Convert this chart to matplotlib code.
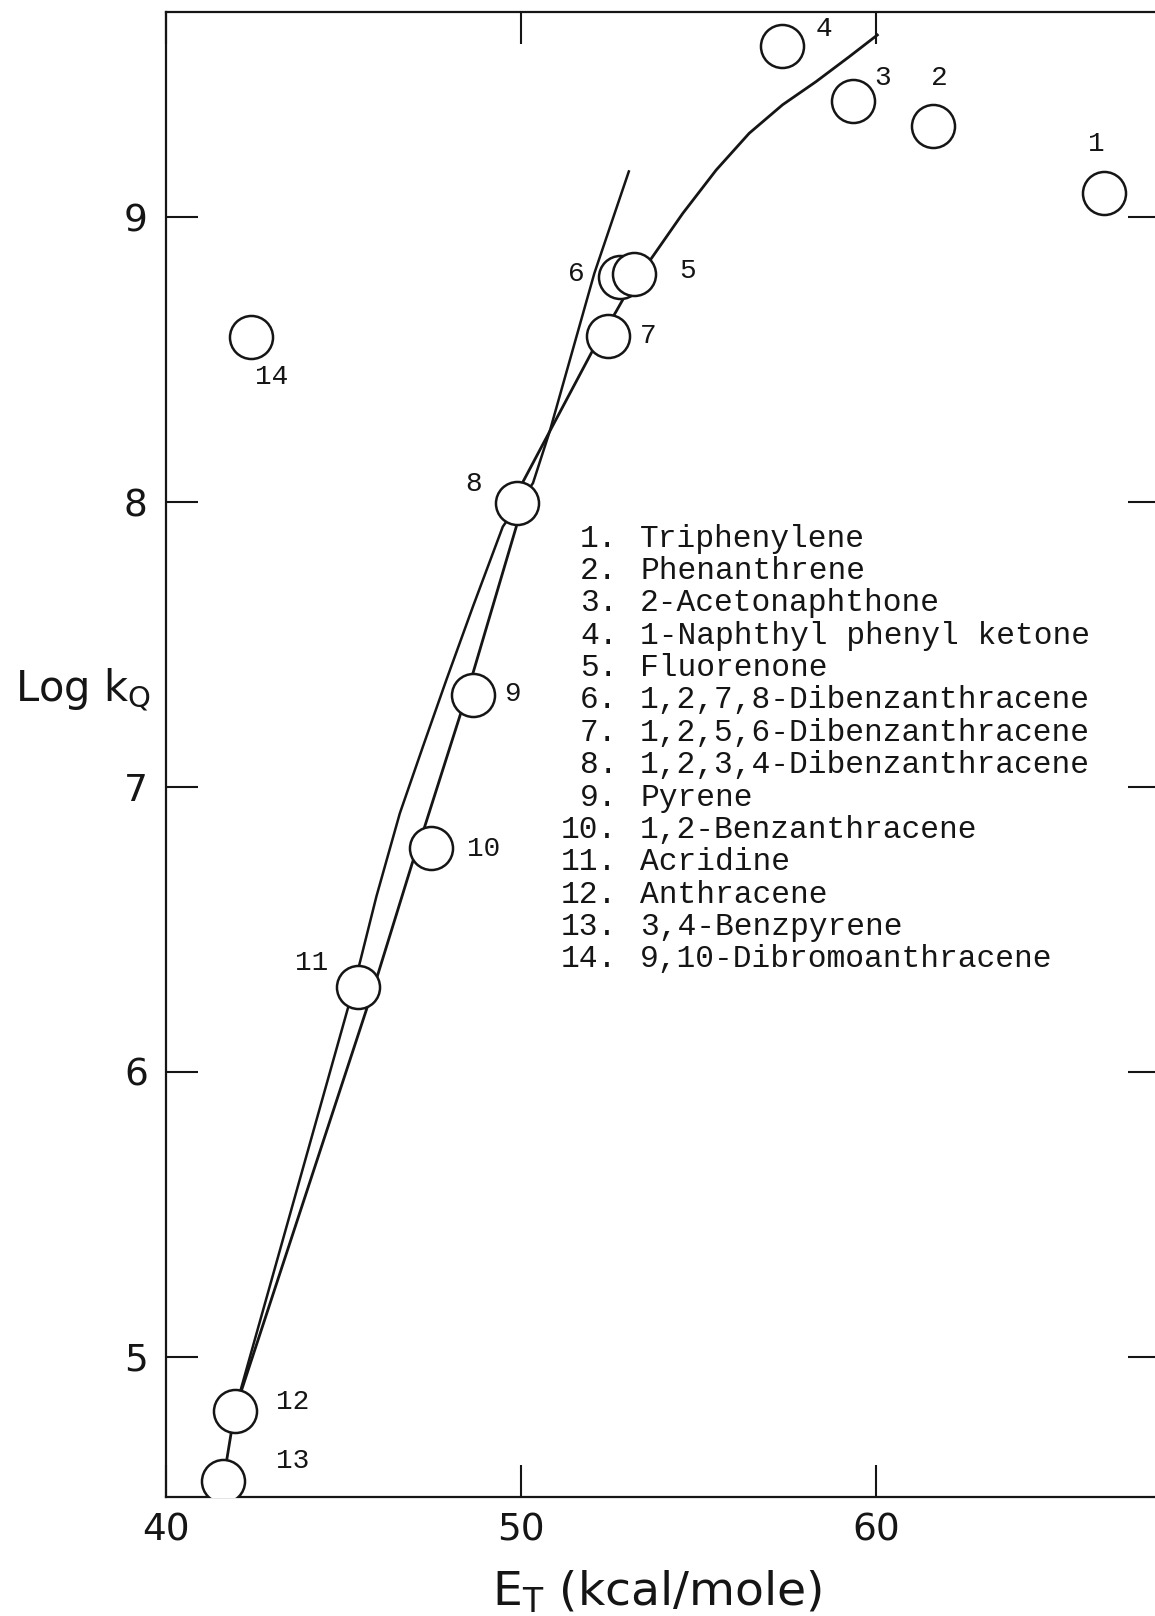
import matplotlib
matplotlib.use("Agg")
import matplotlib.pyplot as plt

# ===== data =====
compound_ids = ["1", "2", "3", "4", "5", "6", "7", "8", "9", "10", "11", "12", "13", "14"]
compound_names = [
    "Triphenylene",
    "Phenanthrene",
    "2-Acetonaphthone",
    "1-Naphthyl phenyl ketone",
    "Fluorenone",
    "1,2,7,8-Dibenzanthracene",
    "1,2,5,6-Dibenzanthracene",
    "1,2,3,4-Dibenzanthracene",
    "Pyrene",
    "1,2-Benzanthracene",
    "Acridine",
    "Anthracene",
    "3,4-Benzpyrene",
    "9,10-Dibromoanthracene",
]
e_t = [66.43, 61.60, 59.36, 57.36, 53.19, 52.78, 52.46, 49.90, 48.65, 47.48, 45.41, 41.94, 41.62, 42.41]
log_kq = [9.087, 9.32, 9.41, 9.60, 8.80, 8.79, 8.584, 7.998, 7.325, 6.786, 6.299, 4.810, 4.566, 8.58]

# hand drawn curve through the points
curve_x = [41.62, 41.94, 45.65, 45.98, 46.94, 47.29, 48.29, 48.65, 49.87, 50.06, 51.98,
           52.68, 52.92, 53.71, 54.56, 55.50, 56.43, 57.37, 58.31, 59.25, 60.04]
curve_y = [4.566, 4.810, 6.219, 6.346, 6.733, 6.861, 7.253, 7.400, 7.914, 8.072, 8.523,
           8.669, 8.722, 8.862, 9.014, 9.166, 9.295, 9.395, 9.476, 9.564, 9.640]

# second (calculated) line
line_x = [41.94, 45.13, 45.46, 45.93, 46.59, 47.24, 47.90, 48.65, 49.49, 50.34, 50.81, 52.07, 53.04]
line_y = [4.810, 6.225, 6.382, 6.616, 6.908, 7.142, 7.376, 7.634, 7.914, 8.067, 8.248, 8.804, 9.161]

x_ticks = [40, 50, 60]
y_ticks = [5, 6, 7, 8, 9]

# label offsets next to each circle (points)
label_offsets = [(-6, 35), (4.5, 35), (21.5, 16), (29.7, 12.6), (38.6, 2.2), (-31.2, 2.2), (28.9, 0),
                 (-31.2, 13.4), (28.2, 0.7), (37.8, -0.7), (-33.4, 17.1), (41.5, 6.7), (49.7, 14.1),
                 (14.8, -28.9)]

INK = "#151515"
TYPE_FONT = "Liberation Mono"

fig = plt.figure(figsize=(11.55, 16.16), dpi=100)
fig.patch.set_facecolor("white")
ax = fig.add_axes([0.1436, 0.0738, 0.8607, 0.9190])
ax.set_xlim(40, 68)
ax.set_ylim(4.509, 9.722)

ax.plot(curve_x, curve_y, color=INK, linewidth=2.0, zorder=2, solid_joinstyle="round")
ax.plot(line_x, line_y, color=INK, linewidth=1.8, zorder=2, solid_joinstyle="round")

# circles: 6 first so 5 sits on top of it
order = [0, 1, 2, 3, 5, 4, 6, 7, 8, 9, 10, 11, 12, 13]
for i in order:
    ax.plot(e_t[i], log_kq[i], "o", markersize=31, markerfacecolor="white",
            markeredgecolor=INK, markeredgewidth=1.8, zorder=3)

for i, cid in enumerate(compound_ids):
    ax.annotate(cid, (e_t[i], log_kq[i]), xytext=label_offsets[i], textcoords="offset points",
                ha="center", va="center", fontsize=20, family=TYPE_FONT, color=INK, zorder=4)

# typed key
key_top = 7.872
key_step = 0.1136
for i, (cid, name) in enumerate(zip(compound_ids, compound_names)):
    yy = key_top - i * key_step
    ax.text(52.72, yy, cid + ".", ha="right", va="center", fontsize=22.5, family=TYPE_FONT, color=INK)
    ax.text(53.36, yy, name, ha="left", va="center", fontsize=22.5, family=TYPE_FONT, color=INK)

ax.set_xticks(x_ticks)
ax.set_yticks(y_ticks)
ax.tick_params(axis="both", direction="in", length=23, width=1.5, colors=INK,
               top=True, right=True, labelsize=27)
ax.tick_params(axis="x", pad=11)
ax.tick_params(axis="y", pad=13)
for s in ax.spines.values():
    s.set_linewidth(1.6)
    s.set_color(INK)

fig.text(0.013, 0.5665, r"Log k$_\mathregular{Q}$", fontsize=30, color=INK, ha="left", va="baseline")
fig.text(0.4264, 0.0068, r"E$_\mathregular{T}$ (kcal/mole)", fontsize=34, color=INK, ha="left", va="baseline")

fig.savefig("out.png", dpi=100)
plt.close(fig)
